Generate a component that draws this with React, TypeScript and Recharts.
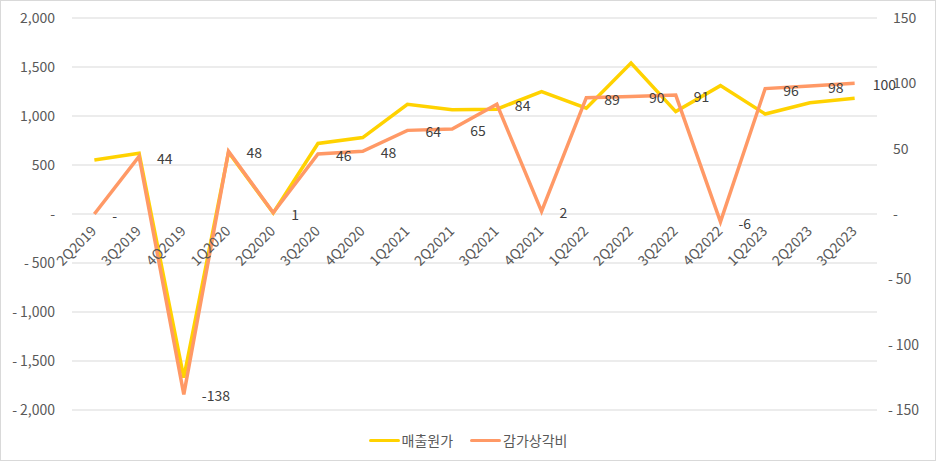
import React from 'react';
import {
  LineChart,
  Line,
  XAxis,
  YAxis,
  CartesianGrid,
  Legend,
  LabelList,
} from 'recharts';

const quarters = [
  '2Q2019', '3Q2019', '4Q2019', '1Q2020', '2Q2020', '3Q2020', '4Q2020', '1Q2021', '2Q2021',
  '3Q2021', '4Q2021', '1Q2022', '2Q2022', '3Q2022', '4Q2022', '1Q2023', '2Q2023', '3Q2023',
];
const costOfSales = [
  550, 620, -1670, 630, 10, 720, 780, 1120, 1065, 1070, 1250, 1080, 1540, 1045, 1310, 1020, 1135, 1180,
];
const depreciation = [0, 44, -138, 48, 1, 46, 48, 64, 65, 84, 2, 89, 90, 91, -6, 96, 98, 100];

const leftTicks = [-2000, -1500, -1000, -500, 0, 500, 1000, 1500, 2000];
const rightTicks = [-150, -100, -50, 0, 50, 100, 150];

const data = quarters.map((q, i) => ({
  q,
  cost: costOfSales[i],
  dep: depreciation[i],
}));

const W = 936;
const H = 461;
const TOP = 18;
const BOTTOM = 50;
const X_H = 1;
const PLOT_H = H - TOP - BOTTOM - X_H;
const FONT = '"Noto Sans CJK KR", "Noto Sans", sans-serif';
const GRAY = '#595959';
const YELLOW = '#FFD200';
const ORANGE = '#FF9966';

const fmt = (v: number) => {
  if (v === 0) return '-';
  const s = Math.abs(v).toLocaleString('en-US');
  return v < 0 ? '-\u2009' + s : s;
};

const XTick = ({ x, y, payload }: any) => (
  <g transform={`translate(${x + 3},${y - PLOT_H / 2 + 16})`}>
    <text transform="rotate(-45)" textAnchor="end" fill={GRAY} fontSize={14} fontFamily={FONT}>
      {payload.value}
    </text>
  </g>
);

const LeftTick = ({ y, payload }: any) => (
  <text x={55} y={y} dy={5} textAnchor="end" fill={GRAY} fontSize={14} fontFamily={FONT}>
    {fmt(payload.value)}
  </text>
);

const RightTick = ({ y, payload }: any) => (
  <text
    x={payload.value < 0 ? 888 : 893}
    y={y}
    dy={5}
    textAnchor="start"
    fill={GRAY}
    fontSize={14}
    fontFamily={FONT}
  >
    {fmt(payload.value)}
  </text>
);

const DepLabel = ({ x, y, value }: any) => (
  <text x={x + 18} y={y + 7} textAnchor="start" fill="#404040" fontSize={14} fontFamily={FONT}>
    {value === 0 ? '-' : String(value)}
  </text>
);

const LegendContent = () => (
  <div
    style={{
      display: 'flex',
      justifyContent: 'center',
      alignItems: 'center',
      fontFamily: FONT,
      fontSize: 14,
      color: GRAY,
    }}
  >
    {[
      { name: '매출원가', color: YELLOW },
      { name: '감가상각비', color: ORANGE },
    ].map((item, i) => (
      <div key={item.name} style={{ display: 'flex', alignItems: 'center', marginLeft: i ? 17 : 0 }}>
        <span
          style={{
            display: 'inline-block',
            width: 31,
            height: 3,
            background: item.color,
            borderRadius: 2,
            marginRight: 2,
          }}
        />
        <span>{item.name}</span>
      </div>
    ))}
  </div>
);

export default function App() {
  return (
    <div
      style={{
        position: 'absolute',
        left: 0,
        top: 0,
        width: W,
        height: H,
        boxSizing: 'border-box',
        border: '1px solid #d9d9d9',
        background: '#fff',
      }}
    >
      <div style={{ position: 'absolute', left: -1, top: -1 }}>
        <LineChart width={W} height={H} data={data} margin={{ top: TOP, bottom: BOTTOM, left: 0, right: 0 }}>
          <CartesianGrid yAxisId="left" vertical={false} stroke="#d9d9d9" strokeWidth={1} />
          <XAxis
            dataKey="q"
            scale="band"
            axisLine={false}
            tickLine={false}
            tickSize={0}
            interval={0}
            tick={<XTick />}
            height={X_H}
          />
          <YAxis
            yAxisId="left"
            width={72}
            domain={[-2000, 2000]}
            ticks={leftTicks}
            axisLine={false}
            tickLine={false}
            tick={<LeftTick />}
          />
          <YAxis
            yAxisId="right"
            orientation="right"
            width={59}
            domain={[-150, 150]}
            ticks={rightTicks}
            axisLine={false}
            tickLine={false}
            tick={<RightTick />}
          />
          <Legend
            layout="horizontal"
            verticalAlign="middle"
            align="center"
            wrapperStyle={{ top: 430, left: 0, width: W }}
            content={<LegendContent />}
          />
          <Line
            yAxisId="left"
            dataKey="cost"
            name="매출원가"
            stroke={YELLOW}
            strokeWidth={3.5}
            dot={false}
            isAnimationActive={false}
          />
          <Line
            yAxisId="right"
            dataKey="dep"
            name="감가상각비"
            stroke={ORANGE}
            strokeWidth={3.5}
            dot={false}
            isAnimationActive={false}
          >
            <LabelList dataKey="dep" content={<DepLabel />} />
          </Line>
        </LineChart>
      </div>
    </div>
  );
}
